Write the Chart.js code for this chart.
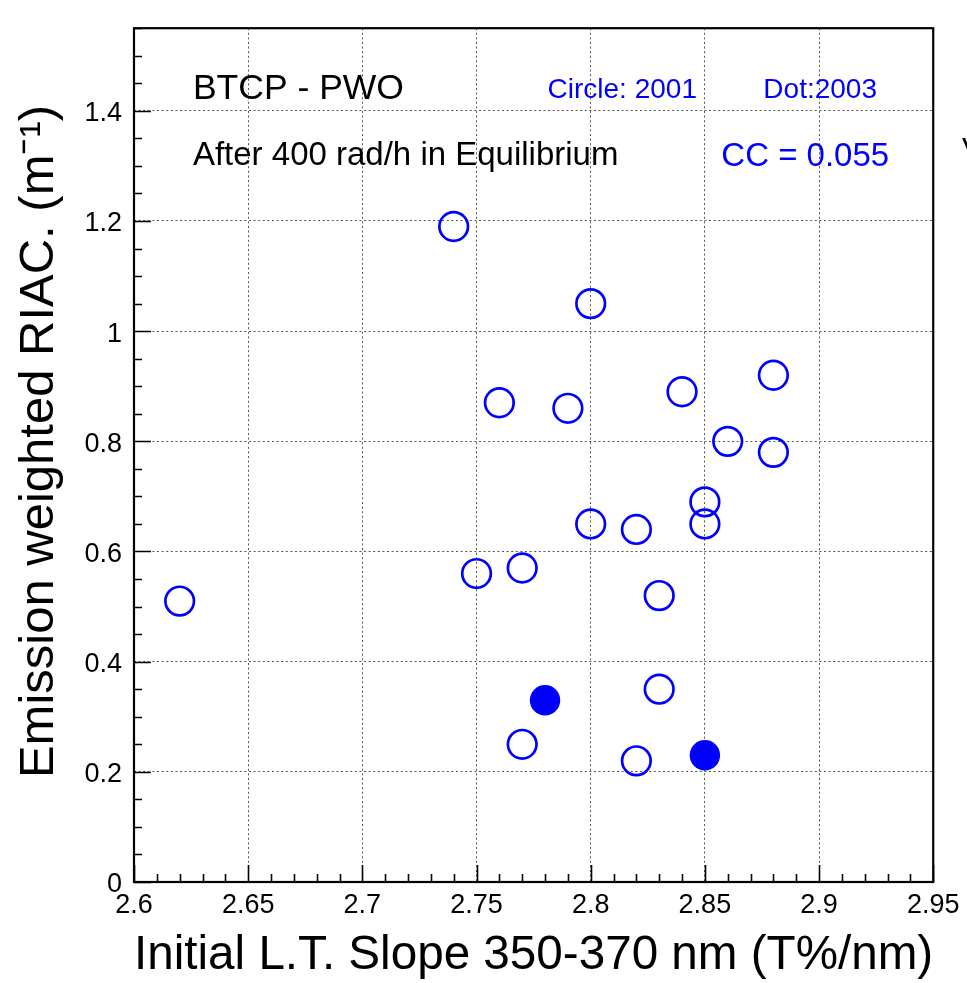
<!DOCTYPE html>
<html><head><meta charset="utf-8">
<script src="https://cdn.jsdelivr.net/npm/chart.js@4.4.1/dist/chart.umd.min.js"></script>
<style>html,body{margin:0;padding:0;background:#fff;overflow:hidden}</style>
</head><body>
<canvas id="c" width="967" height="983" style="display:block;width:967px;height:983px"></canvas>
<script>
// ---- data ----
const openX   = [2.62, 2.74, 2.80, 2.76, 2.79, 2.84, 2.88, 2.86, 2.88, 2.85, 2.85, 2.80, 2.82, 2.75, 2.77, 2.83, 2.83, 2.77, 2.82];
const openY   = [0.51, 1.19, 1.05, 0.87, 0.86, 0.89, 0.92, 0.80, 0.78, 0.69, 0.65, 0.65, 0.64, 0.56, 0.57, 0.52, 0.35, 0.25, 0.22];
const filledX = [2.78, 2.85];
const filledY = [0.33, 0.23];
const xTickLabels = ['2.6', '2.65', '2.7', '2.75', '2.8', '2.85', '2.9', '2.95'];
const yTickLabels = ['0', '0.2', '0.4', '0.6', '0.8', '1', '1.2', '1.4'];
const xTitle = 'Initial L.T. Slope 350-370 nm (T%/nm)';
const yTitle = '  Emission weighted RIAC. (m\u207B\u00B9)';
const noteTexts = ['BTCP - PWO', 'After 400 rad/h in Equilibrium', 'Circle: 2001', 'Dot:2003', 'CC = 0.055'];

// ---- presentation ----
const FONT = '"Liberation Sans", Arial, Helvetica, sans-serif';
const BLUE = '#0000ff';
const notePlacement = [
  {x: 2.6258, y: 1.440, size: 35.5, color: '#000'},
  {x: 2.6258, y: 1.318, size: 33, color: '#000'},
  {x: 2.7811, y: 1.437, size: 28, color: BLUE},
  {x: 2.8756, y: 1.437, size: 28, color: BLUE},
  {x: 2.8572, y: 1.317, size: 33, color: BLUE}
];

const toPts = (xs, ys) => xs.map((x, i) => ({x, y: ys[i]}));
const findLabel = (arr, v) => { const l = arr.find(s => Math.abs(parseFloat(s) - v) < 1e-6); return l === undefined ? '' : l; };

const framePlugin = {
  id: 'frame',
  beforeDatasetsDraw(chart) {
    const {ctx, chartArea: a} = chart;
    const xs = chart.scales.x, ys = chart.scales.y;
    ctx.save();
    ctx.strokeStyle = '#000';
    ctx.lineWidth = 1.6;
    ctx.beginPath();
    for (let k = 0; k <= 35; k++) {
      const px = Math.round(xs.getPixelForValue(xs.min + k * 0.01)) + 0.5;
      const len = (k % 5 === 0) ? 17 : 8;
      ctx.moveTo(px, a.bottom); ctx.lineTo(px, a.bottom - len);
    }
    for (let k = 0; k <= 31; k++) {
      const py = Math.round(ys.getPixelForValue(k * 0.05)) + 0.5;
      const len = (k % 4 === 0) ? 17 : 8;
      ctx.moveTo(a.left, py); ctx.lineTo(a.left + len, py);
    }
    ctx.stroke();
    ctx.lineWidth = 2.2;
    ctx.strokeRect(a.left, a.top, a.right - a.left, a.bottom - a.top);
    ctx.restore();
  },
  afterDraw(chart) {
    const {ctx} = chart;
    const xs = chart.scales.x, ys = chart.scales.y;
    ctx.save();
    ctx.textAlign = 'left';
    ctx.textBaseline = 'middle';
    noteTexts.forEach((t, i) => {
      const p = notePlacement[i];
      ctx.font = p.size + 'px ' + FONT;
      ctx.fillStyle = p.color;
      ctx.fillText(t, xs.getPixelForValue(p.x), ys.getPixelForValue(p.y));
    });
    // clipped glyph at the right edge of the reference picture
    ctx.font = '30px ' + FONT;
    ctx.fillStyle = '#000';
    ctx.fillText('V', 962, 150);
    ctx.restore();
  }
};

const gridColor = (edgeVals) => (c) => {
  if (!c.tick) return '#555';
  return edgeVals.some(v => Math.abs(c.tick.value - v) < 1e-6) ? 'rgba(0,0,0,0)' : '#555';
};

new Chart(document.getElementById('c'), {
  type: 'scatter',
  data: {
    datasets: [
      {label: 'Circle: 2001', data: toPts(openX, openY), pointStyle: 'circle', pointRadius: 14.3, pointHoverRadius: 14.3,
       borderColor: BLUE, backgroundColor: 'rgba(0,0,0,0)', borderWidth: 2.7, pointBorderWidth: 2.7},
      {label: 'Dot:2003', data: toPts(filledX, filledY), pointStyle: 'circle', pointRadius: 15.2, pointHoverRadius: 15.2,
       borderColor: BLUE, backgroundColor: BLUE, borderWidth: 0, pointBorderWidth: 0}
    ]
  },
  options: {
    responsive: false,
    devicePixelRatio: 1,
    animation: false,
    events: [],
    layout: {padding: {left: 0, top: 25, right: 33, bottom: 0}},
    plugins: {legend: {display: false}, tooltip: {enabled: false}},
    scales: {
      x: {
        type: 'linear', min: 2.6, max: 2.95,
        afterFit: s => { s.height = 101; },
        ticks: {stepSize: 0.05, autoSkip: false, maxRotation: 0, padding: 7.5, color: '#000',
                font: {family: FONT, size: 27}, callback: v => findLabel(xTickLabels, v)},
        grid: {drawTicks: false, color: gridColor([2.6, 2.95]), lineWidth: 1},
        border: {display: false, dash: [2, 2.6]},
        title: {display: true, text: xTitle, color: '#000', font: {family: FONT, size: 48}, padding: {top: 0, bottom: -2}}
      },
      y: {
        type: 'linear', min: 0, max: 1.55,
        afterFit: s => { s.width = 134; },
        ticks: {stepSize: 0.2, includeBounds: false, padding: 12, labelOffset: 3, color: '#000',
                font: {family: FONT, size: 27}, callback: v => findLabel(yTickLabels, v)},
        grid: {drawTicks: false, color: gridColor([0]), lineWidth: 1},
        border: {display: false, dash: [2, 2.6]},
        title: {display: true, text: yTitle, color: '#000', font: {family: FONT, size: 49}, padding: {top: 10, bottom: 0}}
      }
    }
  },
  plugins: [framePlugin]
});
</script>
</body></html>
